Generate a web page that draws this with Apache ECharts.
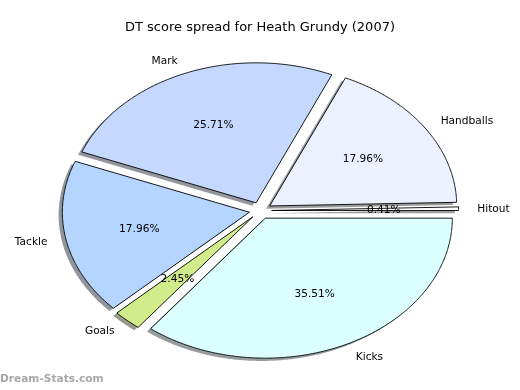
<!DOCTYPE html>
<html>
<head>
<meta charset="utf-8">
<script src="https://cdn.jsdelivr.net/npm/echarts@6/dist/echarts.min.js"></script>
<style>html,body{margin:0;padding:0;background:#fff;}#c{width:520px;height:390px;}</style>
</head>
<body>
<div id="c"></div>
<script>
var categories = ['Hitout', 'Handballs', 'Mark', 'Tackle', 'Goals', 'Kicks'];
var values = [0.41, 17.96, 25.71, 17.96, 2.45, 35.51];
var colors = ['#ffffff', '#ebf1ff', '#c5d9ff', '#b4d5ff', '#d1ec8a', '#dbffff'];
var titleText = 'DT score spread for Heath Grundy (2007)';
var watermark = 'Dream-Stats.com';

var FONT = '"DejaVu Sans", sans-serif';
var explode = 0.06;
var total = values.reduce(function (a, b) { return a + b; }, 0);
var starts = [];
var acc = 0;
values.forEach(function (v) { starts.push(acc / total * 2 * Math.PI); acc += v; });

var data = values.map(function (v, i) {
  return [v, starts[i], starts[i] + v / total * 2 * Math.PI];
});

function hexToRgb(h) {
  return [parseInt(h.substr(1, 2), 16), parseInt(h.substr(3, 2), 16), parseInt(h.substr(5, 2), 16)];
}

function slicePoints(api, a0, a1, dx, dy) {
  var mid = (a0 + a1) / 2;
  var ox = explode * Math.cos(mid) + dx;
  var oy = explode * Math.sin(mid) + dy;
  var pts = [api.coord([ox, oy])];
  var n = Math.max(2, Math.ceil((a1 - a0) / (Math.PI / 360)));
  for (var k = 0; k <= n; k++) {
    var t = a0 + (a1 - a0) * k / n;
    pts.push(api.coord([ox + Math.cos(t), oy + Math.sin(t)]));
  }
  return pts;
}

var chart = echarts.init(document.getElementById('c'), null, { renderer: 'canvas' });
chart.setOption({
  animation: false,
  backgroundColor: '#ffffff',
  title: {
    text: titleText,
    left: 'center',
    top: 16,
    textStyle: { fontFamily: FONT, fontSize: 13, fontWeight: 'normal', color: '#000' }
  },
  grid: { left: 0, right: 0, top: 0, bottom: 0 },
  xAxis: { type: 'value', min: -1.3925, max: 1.3882, show: false },
  yAxis: { type: 'value', min: -1.2814, max: 1.5043, show: false },
  graphic: [{
    type: 'text', left: 0, top: 374,
    style: { text: watermark, font: 'bold 10.6px ' + FONT, fill: '#a8a8a8' }
  }],
  series: [
    {
      type: 'custom', z: 1, data: data, silent: true,
      renderItem: function (params, api) {
        var i = params.dataIndex;
        var c = hexToRgb(colors[i]);
        var pts = slicePoints(api, api.value(1), api.value(2), -0.02, -0.02);
        return {
          type: 'polygon', shape: { points: pts },
          style: { fill: 'rgba(' + Math.round(c[0] * 0.3) + ',' + Math.round(c[1] * 0.3) + ',' + Math.round(c[2] * 0.3) + ',0.55)', stroke: null }
        };
      }
    },
    {
      type: 'custom', z: 2, data: data, silent: true,
      renderItem: function (params, api) {
        var i = params.dataIndex;
        var pts = slicePoints(api, api.value(1), api.value(2), 0, 0);
        return {
          type: 'polygon', shape: { points: pts },
          style: { fill: colors[i], stroke: '#000', lineWidth: 0.9, lineJoin: 'miter' }
        };
      }
    },
    {
      type: 'custom', z: 3, data: data, silent: true,
      renderItem: function (params, api) {
        var i = params.dataIndex;
        var a0 = api.value(1), a1 = api.value(2);
        var mid = (a0 + a1) / 2;
        var c = Math.cos(mid), s = Math.sin(mid);
        var pp = api.coord([(explode + 0.6) * c, (explode + 0.6) * s]);
        var lp = api.coord([(explode + 1.1) * c, (explode + 1.1) * s]);
        return {
          type: 'group',
          children: [
            {
              type: 'text', x: pp[0], y: pp[1] + 0.5,
              style: { text: api.value(0).toFixed(2) + '%', font: '10.6px ' + FONT, fill: '#000', align: 'center', verticalAlign: 'middle', textAlign: 'center', textVerticalAlign: 'middle' }
            },
            {
              type: 'text', x: lp[0], y: lp[1] + 0.5,
              style: { text: categories[i], font: '10.6px ' + FONT, fill: '#000', align: c >= 0 ? 'left' : 'right', verticalAlign: 'middle', textAlign: c >= 0 ? 'left' : 'right', textVerticalAlign: 'middle' }
            }
          ]
        };
      }
    }
  ]
});
</script>
</body>
</html>
